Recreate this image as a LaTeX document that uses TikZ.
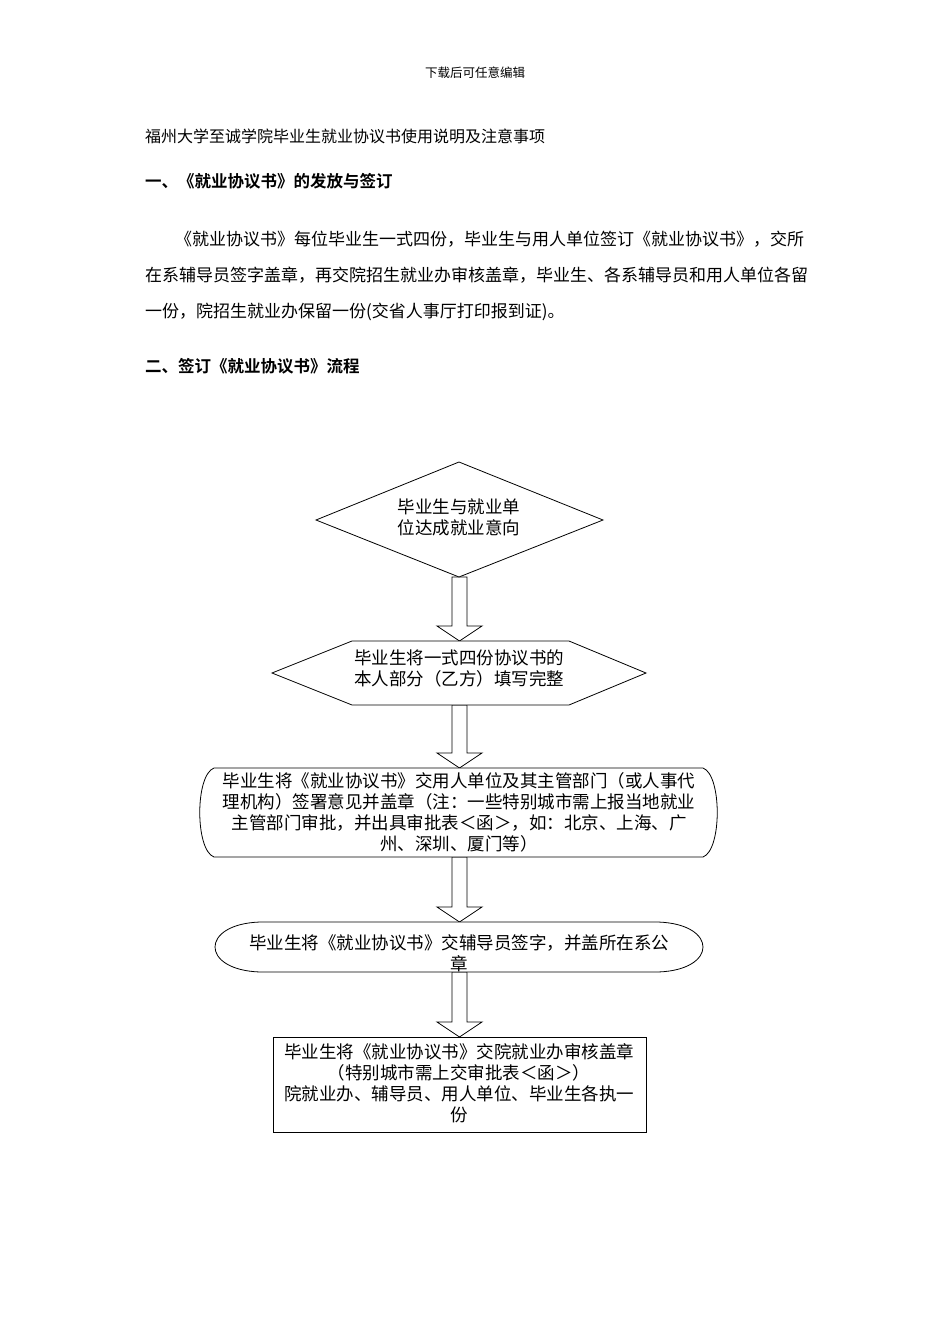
\documentclass[tikz,border=0pt]{standalone}
\usepackage{fontspec}
\setmainfont{Liberation Serif}
\newfontfamily\cjk{Noto Sans CJK SC}[BoldFont={Noto Sans CJK SC Bold}]
\begin{document}
\begin{tikzpicture}[x=1pt,y=-1pt,
  txt/.style={font=\cjk\fontsize{17}{20}\selectfont,inner sep=0pt},
  hd/.style={font=\cjk\bfseries\fontsize{16.5}{20}\selectfont,inner sep=0pt,anchor=west},
  shp/.style={draw,line width=0.8pt,fill=white},
  lbl/.style={font=\cjk\fontsize{17.5}{21}\selectfont,align=center,inner sep=0pt},
  barrow/.style={draw,line width=0.8pt,fill=white}]
\useasboundingbox (0,0) rectangle (950,1344);
\fill[white] (0,0) rectangle (950,1344);
\node[txt,font=\cjk\fontsize{12.5}{14}\selectfont] (hdr) at (475,73) {下载后可任意编辑};
\node[txt,anchor=west,font=\cjk\fontsize{16}{20}\selectfont] (title) at (145,136) {福州大学至诚学院毕业生就业协议书使用说明及注意事项};
\node[hd] (h1) at (145,181) {一、《就业协议书》的发放与签订};
\node[txt,anchor=west] (p1) at (175,239) {《就业协议书》每位毕业生一式四份，毕业生与用人单位签订《就业协议书》，交所};
\node[txt,anchor=west] (p2) at (145,275) {在系辅导员签字盖章，再交院招生就业办审核盖章，毕业生、各系辅导员和用人单位各留};
\node[txt,anchor=west] (p3) at (145,312) {一份，院招生就业办保留一份(交省人事厅打印报到证)。};
\node[hd] (h2) at (145,366) {二、签订《就业协议书》流程};
% block arrows
\foreach \a/\b in {577/641,705/768,857/922,972/1037}{
  \draw[barrow] (452,\a) -- (467,\a) -- (467,\b-15) -- (482,\b-15) -- (459.5,\b) -- (437,\b-15) -- (452,\b-15) -- cycle;
}
% shapes
\draw[shp] (459,462) -- (603,520) -- (459,577) -- (316,520) -- cycle;
\node[lbl] (s1) at (459,517) {毕业生与就业单\\位达成就业意向};
\draw[shp] (352,641) -- (569,641) -- (646,673) -- (569,705) -- (352,705) -- (272,673) -- cycle;
\node[lbl] (s2) at (459,668) {毕业生将一式四份协议书的\\本人部分（乙方）填写完整};
\draw[shp] (214,768) -- (703,768) .. controls (722,775) and (722,850) .. (703,857) -- (214,857) .. controls (195,850) and (195,775) .. (214,768) -- cycle;
\node[lbl] (s3) at (459,812) {毕业生将《就业协议书》交用人单位及其主管部门（或人事代\\理机构）签署意见并盖章（注：一些特别城市需上报当地就业\\主管部门审批，并出具审批表＜函＞，如：北京、上海、广\\州、深圳、厦门等）};
\draw[shp] (260,922) -- (658,922) .. controls (718,924) and (718,970) .. (658,972) -- (260,972) .. controls (200,970) and (200,924) .. (260,922) -- cycle;
\node[lbl] (s4) at (459,953) {毕业生将《就业协议书》交辅导员签字，并盖所在系公\\章};
\draw[shp] (273,1037) rectangle (646,1132);
\node[lbl] (s5) at (459,1083) {毕业生将《就业协议书》交院就业办审核盖章\\（特别城市需上交审批表＜函＞）\\院就业办、辅导员、用人单位、毕业生各执一\\份};
\end{tikzpicture}
\end{document}
